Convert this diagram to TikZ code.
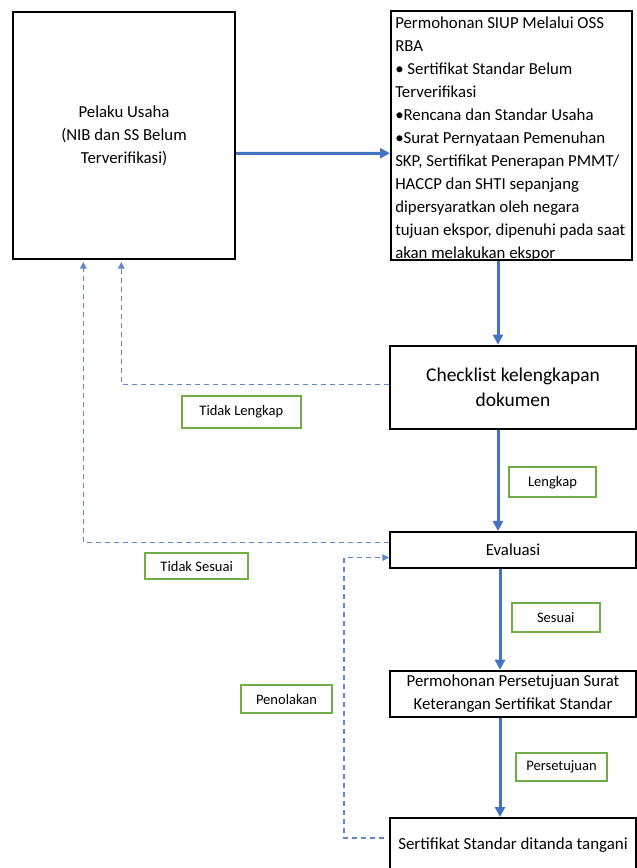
\documentclass[tikz,border=0pt]{standalone}
\usepackage{fontspec}
\setmainfont{Carlito}
\usetikzlibrary{arrows.meta,calc}
\definecolor{flowblue}{HTML}{4472C4}
\definecolor{taggreen}{HTML}{70AD47}
\tikzset{
  box/.style={draw=black,line width=1.5pt,inner sep=0pt,align=center,font=\fontsize{12.6}{17.2}\selectfont},
  flow/.style={flowblue,line width=2.25pt,-{Triangle[length=7.5pt,width=7.5pt]}},
  back/.style={flowblue!85,line width=1pt,dash pattern=on 3.75pt off 3pt,-{Triangle[length=5pt,width=5pt]}},
  tag/.style={draw=taggreen,line width=1.5pt,inner sep=0pt,font=\fontsize{10.9}{13}\selectfont}
}

\begin{document}
\begin{tikzpicture}[x=0.75pt,y=-0.75pt]
  \useasboundingbox (0,0) rectangle (636,868);
  % Boxes
  \node[box,minimum width=166.5pt,minimum height=185.25pt] (pelaku) at (124,135.5)
    {Pelaku Usaha\\(NIB dan SS Belum\\Terverifikasi)};
  \node[box,minimum width=180.75pt,minimum height=186.4pt] (siup) at (511.5,135.75) {};
  \node[anchor=north west,inner sep=0pt,align=left,font=\fontsize{12.6}{17.2}\selectfont] (siupText) at (395,17)
    {Permohonan SIUP Melalui OSS\\RBA\\\textbullet{} Sertifikat Standar Belum\\Terverifikasi\\
     \textbullet Rencana dan Standar Usaha\\\textbullet Surat Pernyataan Pemenuhan\\
     SKP, Sertifikat Penerapan PMMT/\\HACCP dan SHTI sepanjang\\dipersyaratkan oleh negara\\
     tujuan ekspor, dipenuhi pada saat\\akan melakukan ekspor};
  \node[box,minimum width=184.5pt,minimum height=62.5pt,font=\fontsize{14.6}{18.75}\selectfont] (cek) at (513,387.35)
    {Checklist kelengkapan\\dokumen};
  \node[box,minimum width=184.5pt,minimum height=26.8pt] (evaluasi) at (513,549.85) {Evaluasi};
  \node[box,minimum width=184.5pt,minimum height=34.7pt,font=\fontsize{12.6}{17}\selectfont] (psk) at (513,693.85)
    {Permohonan Persetujuan Surat\\Keterangan Sertifikat Standar};
  \node[box,minimum width=184.5pt,minimum height=40.5pt,font=\fontsize{12.7}{15}\selectfont] (ttd) at (513,845)
    {Sertifikat Standar ditanda tangani};
  % Labels
  \node[tag,minimum width=89.6pt,minimum height=23.6pt] (tagTL) at (241.3,411.8) {Tidak Lengkap};
  \node[tag,minimum width=65.25pt,minimum height=22.5pt] (tagL) at (552.5,482.3) {Lengkap};
  \node[tag,minimum width=77.25pt,minimum height=19.3pt] (tagTS) at (196.7,566.2) {Tidak Sesuai};
  \node[tag,minimum width=66.2pt,minimum height=21.5pt] (tagS) at (555.8,617.3) {Sesuai};
  \node[tag,minimum width=68.25pt,minimum height=21pt] (tagP) at (286.5,699) {Penolakan};
  \node[tag,minimum width=68.25pt,minimum height=21.2pt] (tagPs) at (561.5,766.8) {Persetujuan};
  % Main flow
  \coordinate (spineA) at (498,0);
  \coordinate (spineB) at (500,0);
  \draw[flow] ($(pelaku.east)+(0,17.8)$) -- ($(siup.west)+(0,17.5)$);
  \draw[flow] (siup.south -| spineA) -- (cek.north -| spineA);
  \draw[flow] (cek.south -| spineA) -- (evaluasi.north -| spineA);
  \draw[flow] (evaluasi.south -| spineB) -- (psk.north -| spineB);
  \draw[flow] (psk.south -| spineB) -- (ttd.north -| spineB);
  % Returns
  \coordinate (retA) at (121.3,0);
  \coordinate (retB) at (83.3,0);
  \draw[back,shorten >=1.5pt] ($(cek.west)+(0,-2.7)$) -| (pelaku.south -| retA);
  \draw[back,shorten >=1.5pt] ($(evaluasi.west)+(0,-7.1)$) -| (pelaku.south -| retB);
  \draw[back] ($(ttd.west)+(-5,-7)$) -- ++(-40,0) |- ($(evaluasi.west)+(0,7.7)$);
\end{tikzpicture}
\end{document}
